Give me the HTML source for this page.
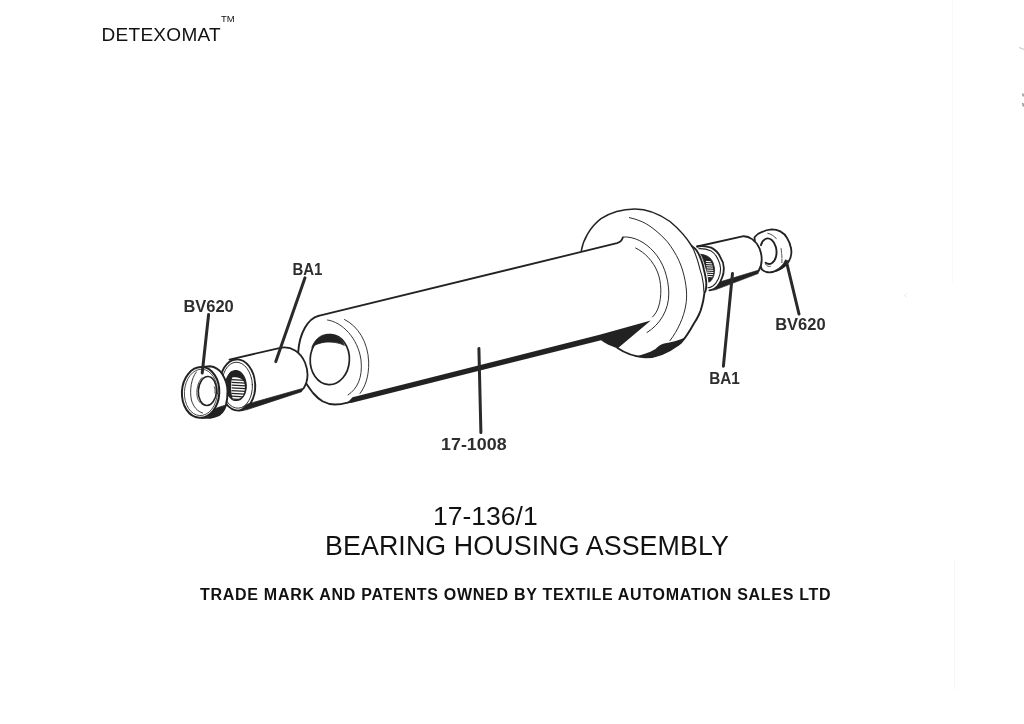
<!DOCTYPE html>
<html>
<head>
<meta charset="utf-8">
<title>17-136/1 Bearing Housing Assembly</title>
<style>
  html, body { margin: 0; padding: 0; background: #ffffff; }
  body { width: 1024px; height: 724px; position: relative; overflow: hidden;
         font-family: "Liberation Sans", sans-serif; color: #111; }
  #page { position: absolute; left: 0; top: 0; width: 1024px; height: 724px; background: #fff; filter: grayscale(1); overflow: hidden; }
  .t { position: absolute; white-space: nowrap; line-height: 1; margin: 0; }
  #brand { left: 101.5px; top: 25px; font-size: 19px; letter-spacing: 0.3px; }
  #tm { left: 221px; top: 14px; font-size: 9.5px; }
  #partno { left: 433px; top: 503px; font-size: 26.5px; }
  #title { left: 325px; top: 533px; font-size: 26.8px; letter-spacing: 0.1px; }
  #legal { left: 200px; top: 587px; font-size: 16px; font-weight: bold; letter-spacing: 0.72px; }
  svg { position: absolute; left: 0; top: 0; }
  svg text { font-family: "Liberation Sans", sans-serif; font-weight: bold; fill: #2e2e2e; }
</style>
</head>
<body>
<div id="page">
<div class="t" id="brand">DETEXOMAT</div>
<div class="t" id="tm">TM</div>
<div class="t" id="partno">17-136/1</div>
<div class="t" id="title">BEARING HOUSING ASSEMBLY</div>
<div class="t" id="legal">TRADE MARK AND PATENTS OWNED BY TEXTILE AUTOMATION SALES LTD</div>

<svg width="1024" height="724" viewBox="0 0 1024 724">
<defs>
  <filter id="soft" x="-2%" y="-2%" width="104%" height="104%"><feGaussianBlur stdDeviation="0.32"/></filter>
</defs>
<g id="scan-artifacts" fill="none">
  <path d="M952.5 0 L952.5 282" stroke="#f8f8f8" stroke-width="1"/>
  <path d="M954.5 560 L954.5 690" stroke="#f7f7f7" stroke-width="1"/>
  <path d="M1022.6 93.5 L1023.6 96.5 M1022.6 103 L1023.6 106.5" stroke="#9a9a9a" stroke-width="1.6"/>
  <path d="M1019 47.5 L1024 49.5" stroke="#cfcfcf" stroke-width="1.2"/>
  <path d="M906.5 293.5 L904.5 295.5 L906.5 297.5" stroke="#dedede" stroke-width="0.8"/>
</g>
<g id="diagram" fill="none" stroke="#222" stroke-linecap="round" stroke-linejoin="round" filter="url(#soft)">
<!-- DIAGRAM-START -->
<!-- ===== Right seal BV620 (behind right bearing) ===== -->
<g id="seal-right">
<path d="M754.5 237.2 C756.5 234.6 759 233 761.6 232.2 C765 230.4 768.5 229.6 771.7 229.4 C775 229.4 778 230.2 780.3 231.4 C783.5 233 785.8 235.6 787.3 238.4 C789.2 241.4 790.3 244.6 790.9 247.8 C791.4 250 791.5 252 791.25 254 C791 256.6 790.2 259 788.9 261 C787 264 784.6 266.4 781.9 268.1 C779 270 776 271.4 772.5 272 C770.4 272.4 768.2 272.4 766.25 272 C764.6 271.6 763.2 270.8 762 269.7 L756 255 Z" fill="#fff" stroke-width="1.8"/>
<path d="M767.8 233.3 C771 234 774.4 236 776.4 238.8" stroke-width="0.8"/>
<path d="M760.9 245.2 A8.1 12.8 -5 1 1 765.6 262.8" stroke-width="1.9"/>
<path d="M765.6 264.2 C766.8 266.2 768.6 266.8 770.4 266.4" stroke-width="0.8"/>
<path d="M781.1 248.6 C781.8 253 782 258 781.9 262.6" stroke-width="0.8" stroke-dasharray="4 1.2"/>
<path d="M775 270.4 C779.4 268.4 783.6 264.6 785.4 259.8 L789.2 261.4 C787 265 783.4 268 779.4 270 C777.6 270.9 776.4 271.3 775 271.6 Z" fill="#222" stroke="#222" stroke-width="0.6"/>
</g>

<!-- ===== Right bearing BA1 ===== -->
<g id="bearing-right">
<path d="M697.2 246.5 L742.5 236.3 C749 235.6 756 240.4 759.6 248.6 C762.6 256.6 762.2 265 758.4 271.4 L714 290 L700 270 Z" fill="#fff" stroke="none"/>
<path d="M697.2 246.5 L742.5 236.3 C749 235.6 756 240.4 759.6 248.6 C762.6 256.6 762.2 265 758.4 271.4" stroke-width="1.8"/>
<path d="M697.2 246.5 C702 245.6 707 246.2 711.25 247.6 C716 250 719 253.6 720.6 257.8 C722.6 260.8 723.6 264 723.75 267.2 C724 271 723.4 274.4 722.2 277.3 C721 281 719.4 284 717.5 286 C715.4 288.4 712.6 290 709.4 290.3" stroke-width="1.8"/>
<path d="M698.8 248.7 C703 248.5 707.6 249.5 711.25 251.1 C714.4 253 716.8 256.4 718.3 260 C719.8 263 720.5 266 720.6 268.7 C720.6 272.4 719.8 276 718.3 278.9 C716.8 282 715 284.4 712.8 286 C711 287.2 709.4 287.8 707.8 287.8" stroke-width="1.1"/>
<path d="M713.6 290 L721 281.6 L758.8 270 L758.2 273.6 L716 289.6 Z" fill="#222" stroke="#222" stroke-width="0.6"/>
<path d="M701 254.3 C704 254.6 707.4 255.8 709.7 257.8 C712 260 713.2 262.4 713.6 264.8 C714.6 267.4 714.8 270 714.4 272.6 C714 275.6 713 278.4 711.25 280.4 C710.6 281.2 709.8 281.8 708.8 282.2 C708.4 277 707.4 272 705.8 268 C704.6 263 703 258.4 701 254.3 Z" fill="#222" stroke-width="0.8"/>
<g stroke="#fff" stroke-width="1" stroke-linecap="butt">
<path d="M705.9 261.4 L710.8 261.8"/>
<path d="M706.1 263.5 L712.0 263.9"/>
<path d="M706.3 265.7 L712.7 266.1"/>
<path d="M706.6 267.8 L713.0 268.2"/>
<path d="M706.8 270.0 L713.3 270.4"/>
<path d="M707.0 272.1 L713.4 272.5"/>
<path d="M707.2 274.3 L713.1 274.6"/>
<path d="M707.4 276.4 L712.5 276.8"/>
</g>
</g>

<!-- ===== Flange ===== -->
<g id="flange">
<path d="M581.3 250.8 C583 240 590 227 601 218.6 C612 211.5 624 209.2 635 209 C648 209 660 214.5 670 221.5 C679 229 686.5 237.5 691.9 246.25 C693 247 695 248.4 696.25 250 C698.4 253 700 256.4 701.25 260 C702.4 263 703.4 266.6 704 270 C705 274 706 278.4 706.25 282.5 C706.4 285.4 706.2 288 705.6 290.6 C705.2 291.6 704.8 292.4 704.4 293.1 C704 296 703.6 298.6 703.1 301.25 C702.4 304.6 701.6 307.6 700.6 310.6 C700 312.2 699.4 313.6 698.75 315 C697.4 318 695.6 321 693.75 323.75 C690 330.6 686 337 681.25 342.5 L678 345 C668 352.5 656 357.6 645 357.4 C634 356.6 624 352.5 617.5 348 Z" fill="#fff" stroke="none"/>
<path d="M581.3 250.8 C583 240 590 227 601 218.6 C612 211.5 624 209.2 635 209 C648 209 660 214.5 670 221.5 C679 229 686.5 237.5 691.9 246.25" stroke-width="1.5"/>
<path d="M691.9 246.25 C693 247 695 248.4 696.25 250 C698.4 253 700 256.4 701.25 260 C702.4 263 703.4 266.6 704 270 C705 274 706 278.4 706.25 282.5 C706.4 285.4 706.2 288 705.6 290.6 C705.2 291.6 704.8 292.4 704.4 293.1 C704 296 703.6 298.6 703.1 301.25 C702.4 304.6 701.6 307.6 700.6 310.6 C700 312.2 699.4 313.6 698.75 315 C697.4 318 695.6 321 693.75 323.75 C690 330.6 686 337 681.25 342.5 L678 345" stroke-width="1.9"/>
<path d="M691.9 246.25 C695 252 698 261 700 269.4 C701.6 274 702.6 278.4 703.1 282.5 C703.6 285.4 703.8 288 703.75 290.6 L704.4 293.1" stroke-width="1.1"/>
<path d="M617.5 348 C624 352.5 634 356.6 645 357.4 C656 357.6 668 352.5 678 345" stroke-width="1.7"/>
<path d="M634 356.2 C640 357.5 648 358 655 356.8 C667 353.5 678 346 685 337.5 C679 340.5 671 342.5 664 343.6 C660 344.6 658 346.8 655.5 349 C649 353 641 355.6 634 356.2 Z" fill="#222" stroke="none"/>
<path d="M629.4 217.6 C634 218.6 638.4 220 642.5 221.9 C647 224 651 226.8 655 230 C659.6 233.6 663.8 237.6 667.5 241.9 C670 245 672 248.2 673.75 251 C677.6 257 680.4 263.4 682.5 270 C684.6 277 685.8 283.6 686.4 290 C686.8 296 686.6 300.6 685.8 305 C684.8 311.6 682.6 318 680 323.75 C677.4 329.6 674 335.4 670 340.6" stroke-width="0.95"/>
<path d="M623 237 C634 236.2 645 242 654 252 C663 262 668.5 277 668.8 293 C669 310 660 324.5 647 332.5" stroke-width="0.95"/>
<path d="M635.6 248 C645 252.5 653 261 657.5 272 C661.5 282 662 296 658.5 307 C657 311.5 655 314.5 652.5 317" stroke-width="0.95"/>
</g>

<!-- ===== Housing 17-1008 main tube ===== -->
<g id="housing">
<path d="M318.5 315.8 L617 243.2 C620.5 242.2 622 240.5 622.8 237.6" stroke-width="1.8"/>
<path d="M318.5 315.8 C308 318.5 299.5 333 298.2 352 C297.6 366 301.4 378 308.1 386.25 C310 389 311.8 391.6 313.75 393.75 C316.4 396.8 319.4 399.4 322.5 401.25 C326.4 403.4 330.6 404.5 335 404.5 C339.4 404.5 343.6 403.7 347.5 402.6 L354 400.4" stroke-width="1.9"/>
<path d="M327.5 320 C342 322 358 338 361 360 C363 378 357 389 348 395" stroke-width="0.9"/>
<path d="M344.5 319.5 C358 326 368 342 368.7 362 C369 377 365 387 360 393.5" stroke-width="0.9"/>
<ellipse cx="329.8" cy="359.6" rx="19.6" ry="25" stroke-width="1.7" transform="rotate(3 329.8 359.6)"/>
<path d="M312 347 C314.5 340 320 334.6 327.5 334.2 C335 334 341.8 338.5 344.4 345.4 C339 342.6 332 341.8 325.5 342.2 C320 342.8 315 344.6 312 347 Z" fill="#222" stroke-width="0.7"/>
<path d="M347 403.3 L352.5 397.3 L600.5 334.6 L650.8 320.6 L617.5 348.4 C611 346 605 343.5 601 340.2 L352 402.8 Z" fill="#222" stroke="none"/>
</g>

<!-- ===== Left bearing BA1 ===== -->
<g id="bearing-left">
<path d="M229.5 359.6 L281.5 347.6 C291 346 300.5 352 305 362.5 C308.5 371.5 308 381.5 303.5 388.6 L247 409.8 L240 410.6 Z" fill="#fff" stroke="none"/>
<path d="M229.5 359.6 L281.5 347.6 C291 346 300.5 352 305 362.5 C308.5 371.5 308 381.5 303.5 388.6" stroke-width="1.8"/>
<ellipse cx="237.6" cy="385" rx="17.6" ry="25.6" fill="#fff" stroke-width="1.9" transform="rotate(-3 237.6 385)"/>
<ellipse cx="237.2" cy="385.2" rx="15.2" ry="23" stroke-width="0.9" transform="rotate(-3 237.2 385.2)"/>
<path d="M240 410.4 L246.5 404.4 L300 389.2 L303.6 388.3 L301.5 391.7 L247 409.6 Z" fill="#222" stroke="#222" stroke-width="0.8"/>
<ellipse cx="236" cy="385.6" rx="10.3" ry="15" fill="#222" stroke-width="1" transform="rotate(-3 236 385.6)"/>
<path d="M232.2 377.6 C236.6 376.4 241.5 378 243.5 381 C245.6 385 245.2 391.5 243 395.5 C241 398.6 237 400.2 232.8 399.4 C230.6 392 230.4 384 232.2 377.6 Z" fill="#fff" stroke="none"/>
<g stroke-width="1.25" stroke="#222" stroke-linecap="butt">
<path d="M231.6 379.6 L245.1 380.4"/>
<path d="M231.6 382.4 L245.8 383.2"/>
<path d="M231.6 385.1 L246.0 385.9"/>
<path d="M231.6 387.9 L245.9 388.7"/>
<path d="M231.6 390.6 L245.4 391.4"/>
<path d="M231.6 393.4 L244.5 394.2"/>
<path d="M231.6 396.1 L243.1 396.9"/>
<path d="M231.6 398.9 L240.5 399.7"/>
</g>
</g>

<!-- ===== Left seal BV620 ===== -->
<g id="seal-left">
<path d="M203 366.9 L210 366.2 C215 366.6 219.4 369.6 222.2 374 C225.4 379 227.4 385.4 227.5 391 C227.6 396.4 227 401.4 225.9 405.4 C224.8 408.6 223.4 410.8 222.1 412.3 C220.4 414.3 218.2 415.6 216.2 416.2 C214 417.2 212 417.6 210.2 417.7 C207 418 204.4 417.9 201.8 417.9 Z" fill="#fff" stroke-width="1.9"/>
<path d="M226 405.2 C224.8 408.6 223.4 410.8 222.1 412.3 C220.4 414.3 218.2 415.6 216.2 416.2 C214 417.2 212 417.6 210.2 417.7 L205 414 L218 407.6 Z" fill="#222" stroke="#222" stroke-width="0.8"/>
<ellipse cx="200.6" cy="392.4" rx="18.7" ry="25.4" fill="#fff" stroke-width="2" transform="rotate(3 200.6 392.4)"/>
<ellipse cx="200.9" cy="392.4" rx="16.5" ry="23.2" stroke-width="0.8" transform="rotate(3 200.9 392.4)"/>
<path d="M196.3 372 C191.4 378 189.4 390 191.4 400 C193.4 407 197.6 411.6 202.6 413" stroke-width="0.9"/>
<ellipse cx="207.4" cy="391" rx="9.1" ry="14.5" stroke-width="1.6" transform="rotate(3 207.4 391)"/>
<path d="M202 377.6 C197.6 382 195.8 391 197.4 397.6 C198.8 402.4 202 405 205.6 405.4" stroke-width="0.8"/>
<path d="M214.2 386.6 C215 388.4 215.2 391 214.9 393" stroke-width="0.7"/>
</g>

<!-- ===== Leaders ===== -->
<g stroke="#2a2a2a" stroke-width="3" stroke-linecap="round">
  <path d="M208.6 314.6 L202.2 373"/>
  <path d="M305 277.8 L275.8 361.6"/>
  <path d="M478.9 348.4 L480.9 432.6"/>
  <path d="M732.5 273.4 L723.4 366.2"/>
  <path d="M786.6 262.4 L799 314"/>
</g>
<!-- DIAGRAM-END -->
</g>
<g id="labels">
  <text x="183.4" y="311.8" font-size="15.6" textLength="50.4" lengthAdjust="spacingAndGlyphs">BV620</text>
  <text x="292.4" y="275.2" font-size="15.6" textLength="30" lengthAdjust="spacingAndGlyphs">BA1</text>
  <text x="441" y="450.4" font-size="15.6" textLength="65.6" lengthAdjust="spacingAndGlyphs">17-1008</text>
  <text x="709.2" y="384.4" font-size="15.6" textLength="30.6" lengthAdjust="spacingAndGlyphs">BA1</text>
  <text x="775.2" y="330" font-size="15.6" textLength="50.4" lengthAdjust="spacingAndGlyphs">BV620</text>
</g>
</svg>
</div>
</body>
</html>
